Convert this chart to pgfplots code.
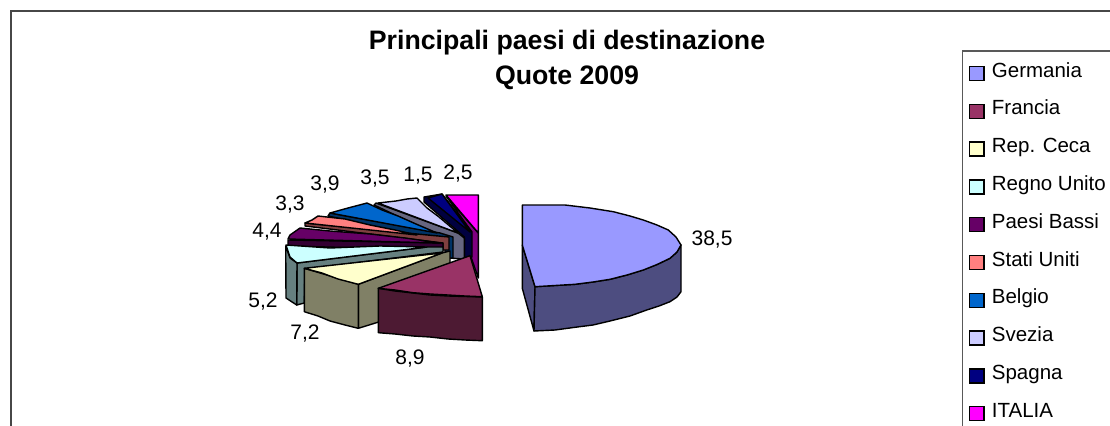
\documentclass[border=0pt]{standalone}
\usepackage{fontspec}
\setmainfont{Liberation Sans}
\usepackage{pgfplots}
\pgfplotsset{compat=1.18}
\definecolor{cGe}{HTML}{9999FF}\definecolor{sGe}{HTML}{4D4D80}
\definecolor{cFr}{HTML}{993366}\definecolor{sFr}{HTML}{4D1A33}
\definecolor{cCe}{HTML}{FFFFCC}\definecolor{sCe}{HTML}{808066}
\definecolor{cRe}{HTML}{CCFFFF}\definecolor{sRe}{HTML}{668080}
\definecolor{cPa}{HTML}{660066}\definecolor{sPa}{HTML}{330033}
\definecolor{cSt}{HTML}{FF8080}\definecolor{sSt}{HTML}{804040}
\definecolor{cBe}{HTML}{0066CC}\definecolor{sBe}{HTML}{003366}
\definecolor{cSv}{HTML}{CCCCFF}\definecolor{sSv}{HTML}{666680}
\definecolor{cSp}{HTML}{000080}\definecolor{sSp}{HTML}{000040}
\definecolor{cIt}{HTML}{FF00FF}\definecolor{sIt}{HTML}{800080}
\pgfplotsset{
  pie/.style={draw=black,line width=1.4bp,line join=round,forget plot,fill=#1},
  sw/.style={legend image code/.code={\draw[line width=1.5bp,draw=black,fill=#1] (0bp,-9bp) rectangle (14.5bp,5bp);}},
}
\begin{document}
\begin{tikzpicture}[x=1bp,y=1bp]
\useasboundingbox (0,0) rectangle (1110bp,426bp);
\begin{axis}[
  at={(0,0)},anchor=south west,
  width=1110bp,height=426bp,scale only axis,
  xmin=0,xmax=1110,ymin=0,ymax=426,y dir=reverse,
  hide axis,clip=true,
  legend cell align=left,
  legend style={at={(axis cs:968.7,62)},anchor=north west,draw=none,fill=none,inner sep=0pt,outer sep=0pt,
    font=\fontsize{20.5bp}{22bp}\selectfont,row sep=18.55bp,
    nodes={text height=15bp,text depth=4bp,inner sep=0pt,outer sep=0pt},
    /tikz/column sep=7.2bp},
]
% frame and legend box
\addplot[draw=black!72,line width=1.3bp,forget plot] coordinates {(11,426)(11,11)(1110,11)};
\addplot[draw=black!65,line width=1.2bp,forget plot] coordinates {(962.8,426)(962.8,51)(1110,51)};
% Italia
\addplot[pie=sIt] coordinates {(446,196)(478.3,233)(478.3,278)(471,257)(471,231)} --cycle;
\addplot[pie=cIt] coordinates {(446,195)(478.3,195)(478.3,233)} --cycle;
% Spagna
\addplot[pie=sSp] coordinates {(424,197)(424,202)(464.3,237)(464.3,259)(472,257)(472,232)(442,194)} --cycle;
\addplot[pie=cSp] coordinates {(428,198)(442,194)(470,232)} --cycle;
% Svezia
\addplot[pie=sSv] coordinates {(376,203)(374,205)(448,240)(448,258)(464.3,259)(464.3,238)(458,233)} --cycle;
\addplot[pie=cSv] coordinates {(378,203)(396,201)(407,199)(417,198)(427,208)(439,217)(458,233)} --cycle;
% Belgio
\addplot[pie=sBe] coordinates {(330,213)(328,216)(445,242)(445,258)(453,258)(453,237)(440,233)} --cycle;
\addplot[pie=cBe] coordinates {(330,213)(348,208)(367,203)(382,210)(398,216)(416,224)(437,233)} --cycle;
% Stati Uniti
\addplot[pie=sSt] coordinates {(305,223)(305,226)(443,243)(443,250)(449,250)(449,237)(417,234)} --cycle;
\addplot[pie=cSt] coordinates {(305,223)(312,220)(318,216)(345,219)(370,225)(395,230)(417,235)} --cycle;
% Paesi Bassi
\addplot[pie=sPa] coordinates {(288,240)(288,246)(443,250)(443,243)} --cycle;
\addplot[pie=cPa] coordinates {(288,239)(290,235)(300,228)(330,231)(370,234)(405,238)(440,243)} --cycle;
% Regno Unito
\addplot[pie=sRe] coordinates {(297,263)(427,247)(443,247)(443,252)(305,269)(304.3,303)(296.7,305)} --cycle;
\addplot[pie=sRe] coordinates {(285.7,246)(290,258)(297,263)(296.7,305)(286,298)} --cycle;
\addplot[pie=cRe] coordinates {(286,245)(330,248)(380,246)(427,247)(297,263)(290,257)} --cycle;
% Rep. Ceca
\addplot[pie=sCe] coordinates {(358.3,284.3)(442,253)(450,251)(450,300)(358.3,328.3)} --cycle;
\addplot[pie=sCe] coordinates {(304.3,268.3)(358.3,284.3)(358.3,328.3)(345,325)(330,321)(318,316)(304.3,311.7)} --cycle;
\addplot[pie=cCe] coordinates {(304.3,268.3)(322,273)(338,279)(358.3,284.3)(442,253)} --cycle;
% Francia
\addplot[pie=sFr] coordinates {(378.3,288.3)(395,291)(413,293)(430,295)(448,296)(482.3,297)(482.3,340.7)(465,340)(448,339)(430,337)(413,336)(395,334)(378.3,332.7)} --cycle;
\addplot[pie=cFr] coordinates {(470,255.7)(482.3,296.7)(465,296)(448,295)(430,294)(413,292.7)(395,290)(378.3,288.3)} --cycle;
% Germania
\addplot[pie=sGe] coordinates {(522.3,245)(535,286.7)(534,331)(522.3,288.3)} --cycle;
\addplot[pie=sGe] coordinates {(535,286.7)(555,285.5)(575,284.3)(593,282)(610,279.3)(627,275)(643,270)(657,264.5)(670,258.3)(677,252)(681,245)(681,291.7)(677,297)(670,301.7)(659,306)(646.7,310)(630,316)(610,321)(593,325)(575,327.3)(555,330)(534,331)} --cycle;
\addplot[pie=cGe] coordinates {(522.3,205)(565,205)(590,208)(613.3,211.7)(630,216)(643.3,220)(657,225)(668.3,230)(676,237)(681,245)(677,252)(670,258.3)(657,264.5)(643.3,270)(627,275)(610,279.3)(593,282)(575,284.3)(555,285.5)(535,286.7)(522.3,245)} --cycle;
% legend
\addlegendimage{sw=cGe}\addlegendentry{Germania}
\addlegendimage{sw=cFr}\addlegendentry{Francia}
\addlegendimage{sw=cCe}\addlegendentry{Rep. Ceca}
\addlegendimage{sw=cRe}\addlegendentry{Regno Unito}
\addlegendimage{sw=cPa}\addlegendentry{Paesi Bassi}
\addlegendimage{sw=cSt}\addlegendentry{Stati Uniti}
\addlegendimage{sw=cBe}\addlegendentry{Belgio}
\addlegendimage{sw=cSv}\addlegendentry{Svezia}
\addlegendimage{sw=cSp}\addlegendentry{Spagna}
\addlegendimage{sw=cIt}\addlegendentry{ITALIA}
% texts
\node[align=center,font=\fontsize{26.7bp}{35bp}\selectfont\bfseries] at (axis cs:567,60) {Principali paesi di destinazione\\Quote 2009};
\begin{scope}[every node/.style={font=\fontsize{21bp}{22bp}\selectfont,inner sep=0pt}]
\node at (axis cs:712,240) {38,5};
\node at (axis cs:410,359) {8,9};
\node at (axis cs:305,334) {7,2};
\node at (axis cs:263,302) {5,2};
\node at (axis cs:267,232) {4,4};
\node at (axis cs:290,205) {3,3};
\node at (axis cs:325,185) {3,9};
\node at (axis cs:375,179) {3,5};
\node at (axis cs:418,176) {1,5};
\node at (axis cs:458,174) {2,5};
\end{scope}
\end{axis}
\end{tikzpicture}
\end{document}
